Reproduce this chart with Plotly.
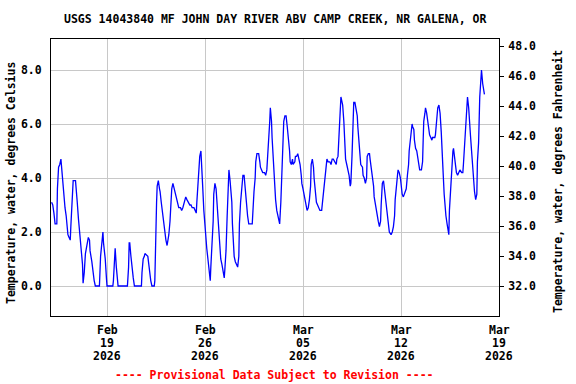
import pandas as pd
import plotly.graph_objects as go

# ---------------- data ----------------
series_start = "2026-02-15 00:00"
x_end = "2026-03-19 00:00"

# hours since series_start
hours = [
    1, 3, 5, 7, 10, 11, 13, 15, 17, 18, 20, 22, 24, 26, 29, 31, 33, 34, 37, 38, 42, 43, 45, 47, 50,
    52, 54, 55, 57, 59, 62, 64, 66, 67, 70, 72, 74, 76, 83, 85, 87, 89, 90, 93, 95, 96, 106, 107,
    109, 110, 112, 114, 115, 131, 133, 134, 135, 137, 139, 141, 143, 155,
    156, 158, 160, 161, 166, 168, 170, 171, 173, 177, 178, 179, 181, 182, 184, 186, 187, 189, 191,
    193, 195, 197, 199, 202, 204, 206, 207, 209, 211, 213, 215, 217, 219, 222, 224, 226, 229, 231,
    233, 235, 238, 240, 242, 245, 247, 249, 250, 252, 254, 255, 257, 258, 260, 262, 264, 266, 267,
    269, 271, 273, 274, 276, 278, 279, 281, 283, 285, 286, 288, 290, 291, 293, 295, 297, 298, 300,
    302, 303, 304, 305, 307,
    309, 310, 311, 313, 314, 316, 318, 320, 322, 323, 325, 327, 329, 331, 333, 335, 337, 339, 345,
    346, 348, 350, 351, 353, 356, 358, 359, 361, 363, 366, 368, 370, 371, 373, 375, 376, 378, 379,
    381, 383, 385, 387, 389, 390, 392, 394, 395, 397, 399, 401, 403, 405, 407, 409, 410, 412, 414,
    415, 418, 419, 421, 423, 425, 427, 429, 430, 432, 434, 436, 438, 439, 441, 443, 445, 446, 448,
    450, 451, 453, 455, 457, 459, 461, 464,
    465, 467, 469, 471, 473, 475, 478, 480, 482, 484, 487, 489, 490, 492, 494, 495, 497, 498, 500,
    502, 503, 505, 507, 509, 511, 513, 514, 516, 518, 519, 521, 523, 525, 526, 528, 530, 531, 534,
    535, 537, 539, 541, 542, 544, 546, 547, 549, 551, 553, 554, 556, 558, 559, 561, 563, 565, 566,
    568, 570, 571, 573, 575, 577, 578, 580, 583, 585, 587, 589, 590, 592, 594, 595, 597, 599, 601,
    602, 604, 606, 607, 609, 611, 613, 614, 616, 618, 619,
    620, 622, 623, 625, 627, 629, 630, 632, 635, 637, 638, 639, 641, 642, 644, 646, 647, 649, 651,
    653, 654, 658, 659, 661, 663, 665, 667, 669, 670, 672, 674, 675, 677, 679, 681, 682, 683, 685,
    687, 689, 690, 692, 694, 695, 697, 699, 701, 704, 706, 707, 709, 711, 713, 714, 716, 718, 719,
    721, 723, 725, 726, 728, 730, 731, 733, 735, 737, 738, 740, 742, 743,
]

temp_c = [
    3.1, 3.0, 2.7, 2.3, 2.3, 3.6, 4.4, 4.5, 4.7, 4.4, 3.8, 3.3, 2.9, 2.6, 1.9, 1.8, 1.7, 2.2, 3.4, 3.9, 3.9, 3.7, 3.1, 2.5, 1.8,
    1.3, 0.8, 0.1, 0.5, 1.2, 1.6, 1.8, 1.7, 1.3, 0.9, 0.5, 0.2, 0.0, 0.0, 1.1, 1.6, 2.0, 1.6, 1.0, 0.3, 0.0, 0.0, 0.2,
    1.0, 1.4, 0.7, 0.2, 0.0, 0.0, 0.7, 1.6, 1.6, 1.1, 0.6, 0.3, 0.0, 0.0,
    0.5, 1.0, 1.1, 1.2, 1.1, 0.7, 0.5, 0.2, 0.0, 0.0, 0.2, 1.8, 3.1, 3.7, 3.9, 3.6, 3.5, 3.1, 2.7,
    2.3, 1.9, 1.7, 1.5, 1.9, 2.4, 3.1, 3.6, 3.8, 3.6, 3.4, 3.3, 3.0, 2.9, 2.9, 2.8, 2.9, 3.1, 3.3,
    3.2, 3.1, 3.0, 3.0, 2.9, 2.9, 2.8, 2.7, 3.1, 3.7, 4.3, 4.8, 5.0, 4.4, 3.7, 2.8, 2.1, 1.7, 1.4,
    1.0, 0.6, 0.2, 0.7, 1.5, 2.4, 3.4, 3.8, 3.6, 2.9, 2.3, 1.6, 1.2, 1.0, 0.8, 0.5, 0.3, 0.6, 1.3,
    2.6, 3.4, 4.2, 4.3, 3.9,
    3.5, 3.1, 2.3, 1.5, 1.1, 0.9, 0.8, 0.7, 1.1, 2.3, 3.1, 3.6, 4.1, 4.1, 3.4, 3.1, 2.6, 2.3, 2.3,
    2.9, 3.5, 4.0, 4.6, 4.9, 4.9, 4.6, 4.4, 4.3, 4.2, 4.2, 4.1, 4.3, 4.6, 5.4, 6.1, 6.6, 6.1, 5.5,
    4.6, 3.7, 3.2, 2.8, 2.6, 2.6, 2.3, 3.1, 3.9, 5.0, 6.1, 6.3, 6.3, 5.9, 5.5, 5.0, 4.6, 4.5, 4.7,
    4.5, 4.6, 4.8, 4.8, 4.9, 4.7, 4.5, 4.1, 3.8, 3.6, 3.4, 3.2, 3.0, 2.8, 2.9, 3.2, 3.7, 4.5, 4.7,
    4.4, 4.0, 3.4, 3.1, 3.0, 2.9, 2.8, 2.8,
    3.0, 3.4, 3.7, 4.3, 4.7, 4.6, 4.6, 4.5, 4.7, 4.7, 4.6, 4.5, 4.7, 4.8, 5.7, 6.4, 7.0, 6.9, 6.7,
    6.1, 5.4, 4.7, 4.5, 4.3, 4.1, 3.7, 3.8, 4.8, 5.9, 6.8, 6.8, 6.6, 6.3, 5.9, 5.3, 4.8, 4.5, 4.4,
    4.1, 4.0, 3.8, 4.0, 4.8, 4.9, 4.9, 4.7, 4.4, 4.0, 3.7, 3.3, 3.0, 2.8, 2.6, 2.4, 2.2, 2.4, 3.0,
    3.8, 3.9, 3.7, 3.3, 2.9, 2.6, 2.3, 2.0, 1.9, 2.0, 2.2, 2.6, 3.2, 3.8, 4.1, 4.3, 4.2, 4.0, 3.7,
    3.4, 3.3, 3.4, 3.5, 3.6, 4.1, 4.5, 5.0, 5.4, 5.8, 6.0,
    5.9, 5.8, 5.4, 5.1, 5.0, 4.7, 4.5, 4.3, 4.3, 4.6, 5.4, 6.1, 6.4, 6.6, 6.4, 6.1, 5.8, 5.6, 5.5,
    5.4, 5.5, 5.5, 5.6, 6.1, 6.6, 6.7, 6.4, 5.7, 5.0, 4.3, 3.4, 3.0, 2.6, 2.3, 2.0, 1.9, 2.8, 3.7,
    4.5, 5.0, 5.1, 4.8, 4.5, 4.2, 4.1, 4.2, 4.3, 4.2, 4.2, 4.5, 5.3, 6.0, 6.6, 7.0, 6.6, 6.1, 5.6,
    5.0, 4.3, 3.8, 3.5, 3.2, 3.4, 4.6, 5.3, 7.0, 7.6, 8.0, 7.5, 7.2, 7.1,
]

tick_dates = ["2026-02-19", "2026-02-26", "2026-03-05", "2026-03-12", "2026-03-19"]
tick_month = ["Feb", "Feb", "Mar", "Mar", "Mar"]
tick_day = ["19", "26", "05", "12", "19"]
tick_year = ["2026", "2026", "2026", "2026", "2026"]

c_ticks = [0, 2, 4, 6, 8]
f_ticks = [32, 34, 36, 38, 40, 42, 44, 46, 48]
c_range = [-1.111, 9.148]

title_text = "USGS 14043840 MF JOHN DAY RIVER ABV CAMP CREEK, NR GALENA, OR"
left_title = "Temperature, water, degrees Celsius"
right_title = "Temperature, water, degrees Fahrenheit"
footer_text = "---- Provisional Data Subject to Revision ----"

# ---------------- figure ----------------
times = pd.Timestamp(series_start) + pd.to_timedelta(hours, unit="h")
temp_f = [c * 9.0 / 5.0 + 32.0 for c in temp_c]
f_range = [c * 9.0 / 5.0 + 32.0 for c in c_range]

FONT = dict(family="DejaVu Sans Mono", size=11.5, color="black", weight="bold")
GRID = "#C8C8C8"

fig = go.Figure()
fig.add_trace(go.Scatter(x=times, y=temp_c, mode="lines",
                         line=dict(color="#0000FF", width=1.3),
                         hoverinfo="skip", showlegend=False))
fig.add_trace(go.Scatter(x=times, y=temp_f, mode="lines", yaxis="y2",
                         line=dict(color="rgba(0,0,0,0)", width=0),
                         hoverinfo="skip", showlegend=False))

fig.update_layout(
    width=576, height=384, autosize=False,
    margin=dict(l=51, r=77, t=39, b=68),
    paper_bgcolor="white", plot_bgcolor="white",
    showlegend=False,
    xaxis=dict(type="date", range=[series_start, x_end],
               tickvals=tick_dates, showticklabels=False, ticks="",
               showgrid=True, gridcolor=GRID, gridwidth=1,
               showline=True, linecolor="black", linewidth=1, mirror=True,
               zeroline=False),
    yaxis=dict(range=c_range, tickvals=c_ticks, tickformat=".1f",
               ticks="", tickfont=FONT, ticklabelstandoff=6,
               showgrid=True, gridcolor=GRID, gridwidth=1,
               showline=True, linecolor="black", linewidth=1, mirror=True,
               zeroline=False),
    yaxis2=dict(range=f_range, tickvals=f_ticks, tickformat=".1f",
                overlaying="y", side="right", anchor="x",
                ticks="outside", ticklen=4, tickcolor="black", tickwidth=1,
                tickfont=FONT, ticklabelstandoff=2,
                showgrid=False, showline=True, linecolor="black", linewidth=1,
                zeroline=False),
)

ann = []
plot_h = 316 - 39
def py(p):
    return (316 - p) / plot_h

for d, m, dd, yy in zip(tick_dates, tick_month, tick_day, tick_year):
    for txt, ypix in ((m, 330), (dd, 343), (yy, 356)):
        ann.append(dict(x=d, y=py(ypix), xref="x", yref="paper", text=txt,
                        showarrow=False, xanchor="center", yanchor="middle",
                        font=FONT))

ann.append(dict(x=(275 - 51) / 448, y=py(19), xref="paper", yref="paper",
                text=title_text, showarrow=False, xanchor="center",
                yanchor="middle", font=FONT))
ann.append(dict(x=(274 - 51) / 448, y=py(375), xref="paper", yref="paper",
                text=footer_text, showarrow=False, xanchor="center",
                yanchor="middle", font=dict(FONT, color="#FF0000")))
ann.append(dict(x=(11 - 51) / 448, y=py(183), xref="paper", yref="paper",
                text=left_title, showarrow=False, textangle=-90,
                xanchor="center", yanchor="middle", font=FONT))
ann.append(dict(x=(558 - 51) / 448, y=py(182), xref="paper", yref="paper",
                text=right_title, showarrow=False, textangle=-90,
                xanchor="center", yanchor="middle", font=FONT))

fig.update_layout(annotations=ann)

fig.write_html("out.html",
               config={"displayModeBar": False, "staticPlot": True},
               post_script="document.body.style.margin='0';document.body.style.overflow='hidden';")
